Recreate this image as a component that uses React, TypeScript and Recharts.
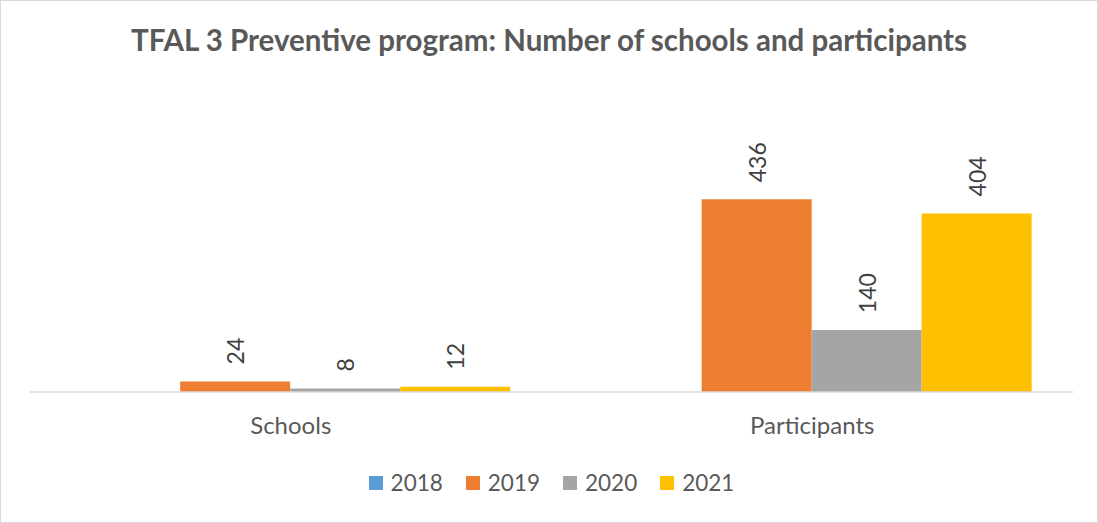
import { Bar, BarChart, LabelList, Legend, XAxis, YAxis } from 'recharts'

const categories = ['Schools', 'Participants']
const years = ['2018', '2019', '2020', '2021']
const values2018: (number | null)[] = [null, null]
const values2019 = [24, 436]
const values2020 = [8, 140]
const values2021 = [12, 404]
const colors = ['#5B9BD5', '#ED7D31', '#A5A5A5', '#FFC000']

const seriesValues = [values2018, values2019, values2020, values2021]

const chartData = categories.map((name, i) => {
  const row: Record<string, string | number | null> = { name }
  years.forEach((year, j) => {
    row[year] = seriesValues[j][i]
  })
  return row
})

const FONT = 'Lato, "Open Sans", sans-serif'

function renderValueLabel(props: any) {
  const { x, y, width, value } = props
  if (value === null || value === undefined) return null
  const cx = Number(x) + Number(width) / 2
  const cy = Number(y) - 17
  return (
    <text
      x={cx}
      y={cy}
      transform={`rotate(-90 ${cx} ${cy})`}
      textAnchor="start"
      dominantBaseline="central"
      fill="#404040"
      fontSize={23}
      fontFamily={FONT}
    >
      {value}
    </text>
  )
}

function renderLegend() {
  return (
    <div style={{ display: 'flex', justifyContent: 'center', fontFamily: FONT, fontSize: 22.5, color: '#595959' }}>
      {years.map((year, i) => (
        <div key={year} style={{ display: 'flex', alignItems: 'center', marginRight: i < years.length - 1 ? 23 : 0 }}>
          <span style={{ width: 14, height: 14, background: colors[i], display: 'inline-block', marginRight: 8 }} />
          <span>{year}</span>
        </div>
      ))}
    </div>
  )
}

export default function App() {
  return (
    <div
      style={{
        position: 'absolute',
        left: 0,
        top: 0,
        width: 1098,
        height: 523,
        boxSizing: 'border-box',
        border: '1px solid #d9d9d9',
        background: '#fff',
      }}
    >
      <div
        style={{
          position: 'absolute',
          top: 21,
          left: 0,
          width: '100%',
          textAlign: 'center',
          fontFamily: FONT,
          fontWeight: 700,
          fontSize: 29.5,
          color: '#595959',
        }}
      >
        TFAL 3 Preventive program: Number of schools and participants
      </div>
      <div style={{ position: 'absolute', left: -1, top: -1 }}>
        <BarChart
          width={1098}
          height={523}
          data={chartData}
          margin={{ top: 171, right: 25, left: 30, bottom: 33 }}
          barCategoryGap="7.7%"
          barGap={0}
        >
          <XAxis
            dataKey="name"
            axisLine={{ stroke: '#d9d9d9', strokeWidth: 1.5 }}
            tickLine={false}
            height={70}
            tick={{ fill: '#595959', fontSize: 24, fontFamily: FONT }}
            tickMargin={19}
          />
          <YAxis hide domain={[0, 500]} />
          <Legend
            verticalAlign="bottom"
            content={renderLegend}
            wrapperStyle={{ top: 469, height: 28 }}
          />
          {years.map((year, i) => (
            <Bar key={year} dataKey={year} fill={colors[i]} isAnimationActive={false}>
              <LabelList dataKey={year} content={renderValueLabel} />
            </Bar>
          ))}
        </BarChart>
      </div>
    </div>
  )
}
